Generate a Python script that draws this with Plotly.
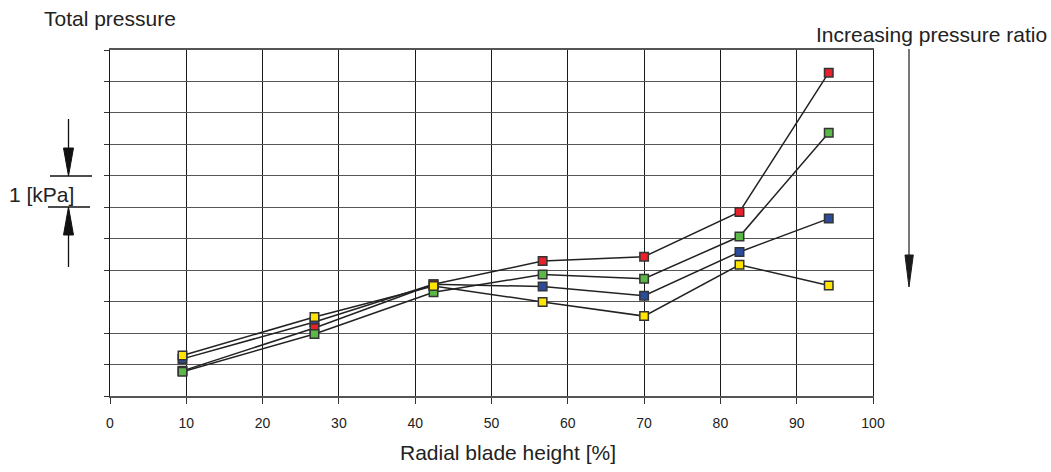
import plotly.graph_objects as go

# ---- data ----
blade_height = [9.5, 26.8, 42.4, 56.7, 70.0, 82.5, 94.2]
red_vals = [0.80, 2.16, 3.55, 4.29, 4.43, 5.85, 10.28]
green_vals = [0.77, 1.97, 3.30, 3.86, 3.73, 5.07, 8.37]
blue_vals = [1.18, 2.35, 3.55, 3.48, 3.19, 4.58, 5.64]
yellow_vals = [1.29, 2.51, 3.50, 2.99, 2.54, 4.17, 3.51]
x_ticks = [0, 10, 20, 30, 40, 50, 60, 70, 80, 90, 100]

series = [
    ("blue", blue_vals, "#2b4c9b"),
    ("red", red_vals, "#e8212b"),
    ("green", green_vals, "#5bb847"),
    ("yellow", yellow_vals, "#ffe500"),
]

W, H = 1051, 472
L, R, T, B = 110, 873, 50, 396
FONT = "Liberation Sans, Arial, sans-serif"
TXT = "#222222"


def px(xp):
    return (xp - L) / (R - L)


def py(yp):
    return (B - yp) / (B - T)


fig = go.Figure()
for name, vals, col in series:
    fig.add_trace(go.Scatter(x=blade_height, y=vals, mode="lines",
                             line=dict(color="#222222", width=1.5),
                             showlegend=False, hoverinfo="skip"))
for name, vals, col in series:
    fig.add_trace(go.Scatter(x=blade_height, y=vals, mode="markers", name=name,
                             marker=dict(symbol="square", size=8.5, color=col,
                                         line=dict(color="#333333", width=1.5)),
                             showlegend=False))

fig.update_layout(
    width=W, height=H,
    margin=dict(l=L, r=W - R, t=T, b=H - B),
    paper_bgcolor="white", plot_bgcolor="white",
    font=dict(family=FONT, color=TXT),
    xaxis=dict(range=[0, 100], tickvals=x_ticks, ticktext=[str(v) for v in x_ticks],
               showgrid=True, gridcolor="#1a1a1a", gridwidth=1,
               showline=True, mirror=True, linecolor="#555555", linewidth=1.5,
               ticks="outside", ticklen=6, tickcolor="#333333",
               tickfont=dict(size=14, color=TXT), zeroline=False,
               ticklabelstandoff=7),
    yaxis=dict(range=[0, 11], dtick=1, showticklabels=False,
               showgrid=True, gridcolor="#555555", gridwidth=1.3,
               showline=True, mirror=True, linecolor="#1a1a1a", linewidth=1,
               ticks="outside", ticklen=5, tickcolor="#333333", zeroline=False),
)

ann = [
    dict(text="Total pressure", x=px(42), y=py(18.5), xanchor="left", yanchor="middle", size=21),
    dict(text="Increasing pressure ratio", x=px(1049), y=py(35), xanchor="right", yanchor="middle", size=21),
    dict(text="1 [kPa]", x=px(7), y=py(194.5), xanchor="left", yanchor="middle", size=21),
    dict(text="Radial blade height [%]", x=px(508.5), y=py(452), xanchor="center", yanchor="middle", size=21),
]
for a in ann:
    fig.add_annotation(text=a["text"], x=a["x"], y=a["y"], xref="paper", yref="paper",
                       xanchor=a["xanchor"], yanchor=a["yanchor"], showarrow=False,
                       font=dict(size=a["size"], color=TXT, family=FONT))

def line(x0, y0, x1, y1, color="#111111", width=1.3):
    fig.add_shape(type="line", xref="paper", yref="paper",
                  x0=px(x0), y0=py(y0), x1=px(x1), y1=py(y1),
                  line=dict(color=color, width=width))

def tri(pts, color="#111111"):
    path = "M " + " L ".join(f"{px(a):.5f},{py(b):.5f}" for a, b in pts) + " Z"
    fig.add_shape(type="path", xref="paper", yref="paper", path=path,
                  fillcolor=color, line=dict(color=color, width=1))

# left 1 kPa bracket
line(50, 176, 92, 176)
line(48, 207, 90, 207)
line(68.5, 119, 68.5, 150)
tri([(63.5, 148), (73.5, 148), (68.5, 176)])
line(68.5, 233, 68.5, 267)
tri([(68.5, 207), (63.5, 235), (73.5, 235)])

# right arrow
line(909, 49, 909, 260, color="#777777", width=2)
tri([(905, 255), (913.3, 255), (909, 287)], color="#1a1a1a")

fig.write_html("out.html", config={"displayModeBar": False},
               post_script="document.body.style.margin='0';document.body.style.overflow='hidden';")
